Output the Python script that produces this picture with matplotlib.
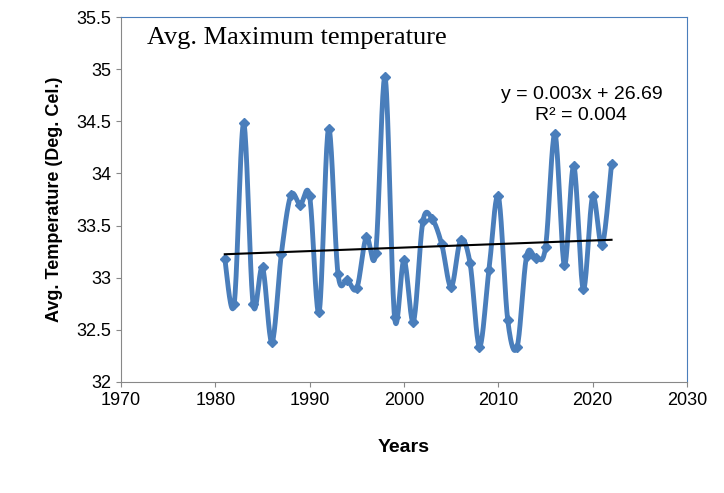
import numpy as np
import matplotlib.pyplot as plt

years = list(range(1981, 2023))
temps = [33.18, 32.75, 34.48, 32.75, 33.10, 32.38, 33.23, 33.79, 33.70, 33.78,
         32.67, 34.43, 33.04, 32.98, 32.90, 33.39, 33.24, 34.92, 32.62, 33.17,
         32.58, 33.54, 33.56, 33.32, 32.91, 33.36, 33.14, 32.34, 33.07, 33.78,
         32.59, 32.34, 33.21, 33.19, 33.29, 34.38, 33.12, 34.07, 32.89, 33.78,
         33.31, 34.09]


def smooth(x, y, n=20):
    # Catmull-Rom style smoothing, like Excel's "smoothed line"
    x = np.asarray(x, float)
    y = np.asarray(y, float)
    px = np.concatenate([[x[0]], x, [x[-1]]])
    py = np.concatenate([[y[0]], y, [y[-1]]])
    xs, ys = [], []
    t = np.linspace(0, 1, n, endpoint=False)
    for i in range(1, len(px) - 2):
        for p, out in ((px, xs), (py, ys)):
            p0, p1, p2, p3 = p[i - 1], p[i], p[i + 1], p[i + 2]
            out.extend(0.5 * (2 * p1 + (-p0 + p2) * t + (2 * p0 - 5 * p1 + 4 * p2 - p3) * t ** 2
                              + (-p0 + 3 * p1 - 3 * p2 + p3) * t ** 3))
    xs.append(x[-1])
    ys.append(y[-1])
    return xs, ys


plt.rcParams['font.family'] = ['Liberation Sans', 'DejaVu Sans']
fig = plt.figure(figsize=(7.24, 4.93), dpi=100)
ax = fig.add_axes([121/724, 1 - 382/493, 566/724, 365/493])

sx, sy = smooth(years, temps)
ax.plot(sx, sy, color='#4a7ebb', lw=3.5)
ax.plot(years, temps, color='#4a7ebb', lw=0, marker='D', ms=5)
k, b = np.polyfit(years, temps, 1)
yr = np.array([years[0], years[-1]])
ax.plot(yr, k * yr + b, color='black', lw=1.5)

ax.set_xlim(1970, 2030)
ax.set_ylim(32, 35.5)
ax.set_xticks(range(1970, 2031, 10))
ax.set_yticks(np.arange(32, 35.51, 0.5))
ax.set_yticklabels(['32', '32.5', '33', '33.5', '34', '34.5', '35', '35.5'])
ax.tick_params(labelsize=13, direction='out', color='#888888')
for s in ax.spines.values():
    s.set_color('#4a7ebb')
ax.spines['left'].set_color('#888888')
ax.spines['bottom'].set_color('#888888')

ax.set_xlabel('Years', fontsize=14, fontweight='bold', labelpad=22)
ax.set_ylabel('Avg. Temperature (Deg. Cel.)', fontsize=13, fontweight='bold', labelpad=10)
ax.text(1972.8, 35.4, 'Avg. Maximum temperature', fontsize=19,
        family='Liberation Serif', va='top')
ax.text(2018.8, 34.66, 'y = 0.003x + 26.69\nR² = 0.004', fontsize=14,
        ha='center', va='center', linespacing=1.3)

fig.savefig('out.png', dpi=100)
